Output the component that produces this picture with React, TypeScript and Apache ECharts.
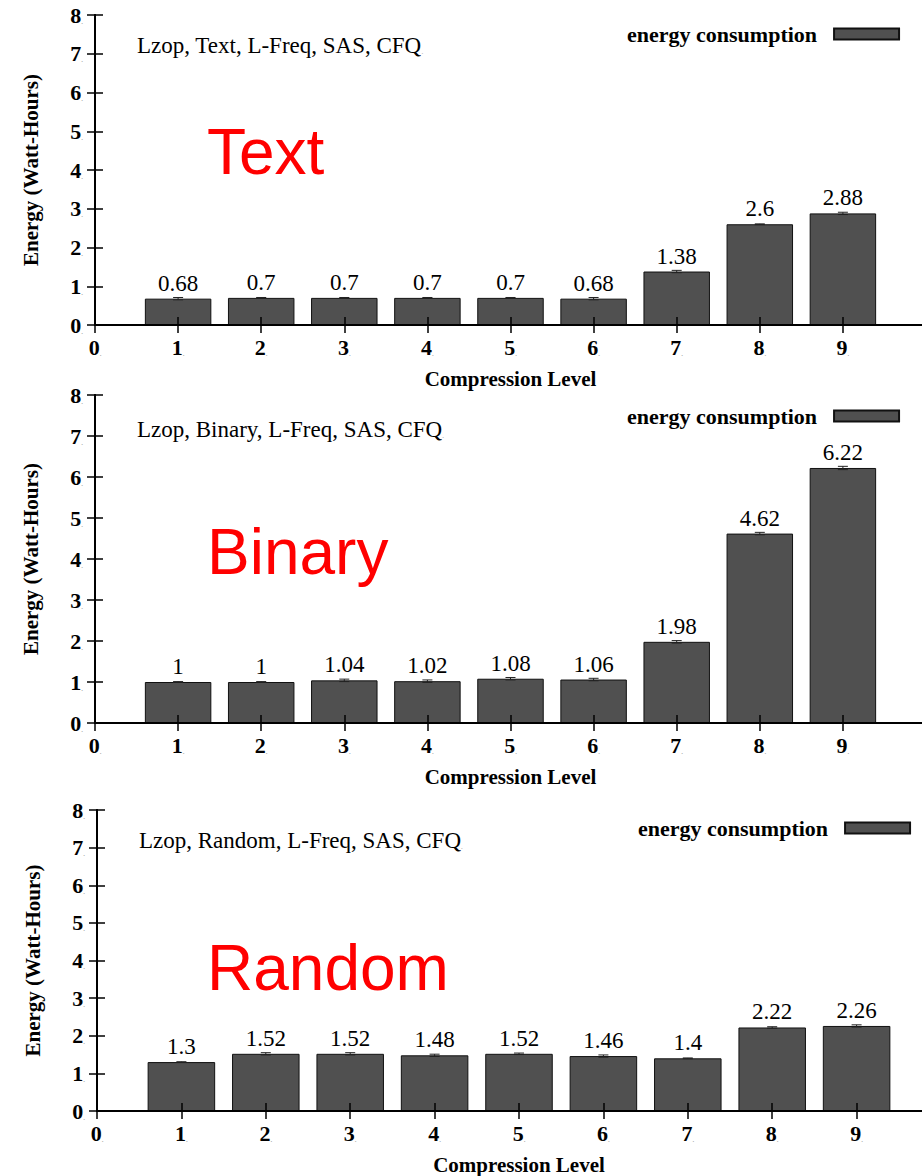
import React, { useEffect, useRef } from "react";
import * as echarts from "echarts";

// Energy (Watt-Hours) per lzop compression level, for three kinds of input
const levels = [1, 2, 3, 4, 5, 6, 7, 8, 9];
const textEnergy = [0.68, 0.7, 0.7, 0.7, 0.7, 0.68, 1.38, 2.6, 2.88];
const textError = [0.03, 0.01, 0.01, 0.01, 0.01, 0.03, 0.03, 0.01, 0.03];
const binaryEnergy = [1, 1, 1.04, 1.02, 1.08, 1.06, 1.98, 4.62, 6.22];
const binaryError = [0.01, 0.01, 0.03, 0.03, 0.03, 0.03, 0.03, 0.03, 0.04];
const randomEnergy = [1.3, 1.52, 1.52, 1.48, 1.52, 1.46, 1.4, 2.22, 2.26];
const randomError = [0.01, 0.03, 0.03, 0.03, 0.02, 0.03, 0.01, 0.02, 0.03];

const xTickLabels = ["0", "1", "2", "3", "4", "5", "6", "7", "8", "9"];
const yTickLabels = ["0", "1", "2", "3", "4", "5", "6", "7", "8"];

const panelTitles = [
  "Lzop, Text, L-Freq, SAS, CFQ",
  "Lzop, Binary, L-Freq, SAS, CFQ",
  "Lzop, Random, L-Freq, SAS, CFQ",
];
const panelTags = ["Text", "Binary", "Random"];
const seriesName = "energy consumption";
const xName = "Compression Level";
const yName = "Energy (Watt-Hours)";

// plot-area placement of each panel
const grids = [
  { left: 95, top: 15, width: 831, height: 310 },
  { left: 95, top: 395, width: 831, height: 328 },
  { left: 97, top: 810, width: 844, height: 302 },
];
const legendPos = [
  { left: 627, top: 23 },
  { left: 627, top: 405 },
  { left: 638, top: 817 },
];
const titlePos = [
  { left: 137, top: 34 },
  { left: 137, top: 418 },
  { left: 139, top: 829 },
];
const tagPos = [
  { x: 207, y: 152 },
  { x: 207, y: 552 },
  { x: 207, y: 968 },
];

const SERIF = "Liberation Serif";
const BAR = "#505050";
const W = 960;
const H = 1176;

const dotRich = {
  n: { fontFamily: SERIF, fontSize: 22, fontWeight: "bold", color: "#000" },
  d: { fontFamily: SERIF, fontSize: 7, color: "#999", padding: [13, 0, 0, 0] },
};

function buildOption() {
  const energies = [textEnergy, binaryEnergy, randomEnergy];
  const errors = [textError, binaryError, randomError];

  const xAxis: any[] = [];
  const yAxis: any[] = [];
  const series: any[] = [];

  grids.forEach((_, i) => {
    const bw = (grids[i].width / 10) * 0.8;
    xAxis.push({
      type: "value",
      gridIndex: i,
      min: 0,
      max: 10,
      interval: 1,
      z: 5,
      name: xName,
      nameLocation: "middle",
      nameGap: 43,
      nameTextStyle: {
        fontFamily: SERIF,
        fontSize: 21,
        fontWeight: "bold",
        color: "#000",
      },
      axisLine: { show: true, lineStyle: { color: "#000", width: 2 } },
      axisTick: { show: true, inside: true, length: 8, lineStyle: { color: "#000", width: 1.5 } },
      splitLine: { show: false },
      axisLabel: {
        margin: 11,
        fontFamily: SERIF,
        fontWeight: "bold",
        fontSize: 22,
        formatter: (v: number) =>
          v < xTickLabels.length ? `{n|${xTickLabels[v]}}{d|.}` : "",
        rich: dotRich,
      },
    });
    xAxis.push({
      type: "value",
      gridIndex: i,
      position: "top",
      min: 0,
      max: 10,
      interval: 1,
      z: 5,
      axisLine: { show: true, lineStyle: { color: "#000", width: 2 } },
      axisTick: { show: true, inside: true, length: 8, lineStyle: { color: "#000", width: 1.5 } },
      axisLabel: { show: false },
      splitLine: { show: false },
    });
    yAxis.push({
      type: "value",
      gridIndex: i,
      min: 0,
      max: 8,
      interval: 1,
      z: 5,
      name: yName,
      nameLocation: "middle",
      nameGap: 54,
      nameTextStyle: {
        fontFamily: SERIF,
        fontSize: 21,
        fontWeight: "bold",
        color: "#000",
      },
      axisLine: { show: true, lineStyle: { color: "#000", width: 2 } },
      axisTick: { show: true, inside: true, length: 8, lineStyle: { color: "#000", width: 1.5 } },
      splitLine: { show: false },
      axisLabel: {
        margin: 12,
        fontFamily: SERIF,
        fontWeight: "bold",
        fontSize: 22,
        formatter: (v: number) => `{n|${yTickLabels[v]}}{d|.}`,
        rich: dotRich,
      },
    });
    yAxis.push({
      type: "value",
      gridIndex: i,
      position: "right",
      min: 0,
      max: 8,
      interval: 1,
      z: 5,
      axisLine: { show: true, lineStyle: { color: "#000", width: 2 } },
      axisTick: { show: true, inside: true, length: 8, lineStyle: { color: "#000", width: 1.5 } },
      axisLabel: { show: false },
      splitLine: { show: false },
    });

    series.push({
      type: "bar",
      name: seriesName,
      xAxisIndex: i * 2,
      yAxisIndex: i * 2,
      barWidth: bw,
      data: levels.map((lv, k) => [lv, energies[i][k]]),
      itemStyle: { color: BAR, borderColor: "#111", borderWidth: 1 },
      label: {
        show: true,
        position: "top",
        distance: 4,
        fontFamily: SERIF,
        fontSize: 23,
        fontWeight: 500,
        color: "#000",
        formatter: (p: any) => String(p.value[1]),
      },
      z: 2,
    });
    series.push({
      type: "custom",
      name: "error",
      xAxisIndex: i * 2,
      yAxisIndex: i * 2,
      encode: { x: 0, y: 1 },
      z: 4,
      data: levels.map((lv, k) => [lv, energies[i][k], errors[i][k]]),
      renderItem: (params: any, api: any) => {
        const x = api.value(0);
        const y = api.value(1);
        const e = api.value(2);
        const hi = api.coord([x, y + e]);
        const lo = api.coord([x, y - e]);
        const half = 5;
        const st = { stroke: "#222", lineWidth: 1 };
        return {
          type: "group",
          children: [
            { type: "line", shape: { x1: hi[0], y1: hi[1], x2: lo[0], y2: lo[1] }, style: st },
            { type: "line", shape: { x1: hi[0] - half, y1: hi[1], x2: hi[0] + half, y2: hi[1] }, style: st },
            { type: "line", shape: { x1: lo[0] - half, y1: lo[1], x2: lo[0] + half, y2: lo[1] }, style: st },
          ],
        };
      },
    });
  });

  return {
    animation: false,
    backgroundColor: "#fff",
    grid: grids.map((g) => ({ ...g, containLabel: false })),
    xAxis,
    yAxis,
    series,
    legend: legendPos.map((p) => ({
      ...p,
      padding: 0,
      data: [seriesName],
      align: "right",
      icon: "rect",
      itemWidth: 65,
      itemHeight: 11,
      selectedMode: false,
      textStyle: {
        fontFamily: SERIF,
        fontSize: 22,
        fontWeight: "bold",
        color: "#000",
        padding: [0, 12, 0, 0],
      },
    })),
    title: titlePos.map((p, i) => ({
      ...p,
      padding: 0,
      text: `{m|${panelTitles[i]}}{d|.}`,
      textStyle: {
        fontWeight: "normal",
        rich: {
          m: { fontFamily: SERIF, fontSize: 23, fontWeight: 500, color: "#000" },
          d: { fontFamily: SERIF, fontSize: 7, color: "#999", padding: [13, 0, 0, 0] },
        },
      },
    })),
    graphic: tagPos.map((p, i) => ({
      type: "text",
      x: p.x,
      y: p.y,
      style: {
        text: panelTags[i],
        fontFamily: "Liberation Sans",
        fontSize: 64,
        fill: "#ff0000",
        verticalAlign: "middle",
      },
    })),
  };
}

export default function App() {
  const ref = useRef<HTMLDivElement>(null);
  useEffect(() => {
    if (!ref.current) return;
    const chart = echarts.init(ref.current, undefined, { renderer: "svg" });
    chart.setOption(buildOption());
    return () => chart.dispose();
  }, []);
  return (
    <div
      style={{
        position: "absolute",
        left: 0,
        top: 0,
        width: 922,
        height: H,
        overflow: "hidden",
        background: "#fff",
      }}
    >
      <div ref={ref} style={{ width: W, height: H }} />
    </div>
  );
}
